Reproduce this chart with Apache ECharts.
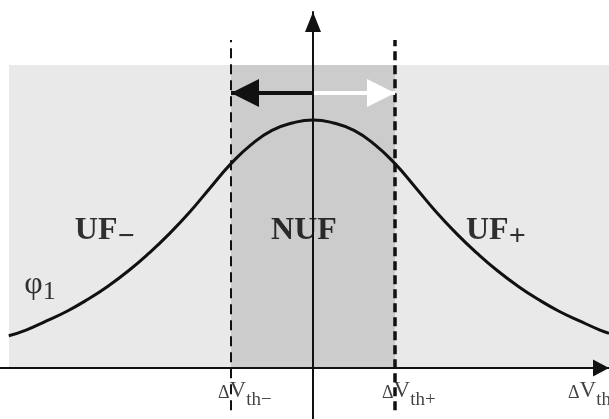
<!DOCTYPE html>
<html>
<head>
<meta charset="utf-8">
<script src="https://cdn.jsdelivr.net/npm/echarts@6/dist/echarts.min.js"></script>
<style>
  html, body { margin: 0; padding: 0; background: #fff; }
  #main { width: 609px; height: 419px; }
</style>
</head>
<body>
<div id="main"></div>
<script>
// 曲线 (x: 以 ΔVth 为单位, y: 峰值归一)
var curveX = [-3.71, -3.5, -3.25, -3.0, -2.75, -2.5, -2.25, -2.0, -1.75, -1.5, -1.25, -1.0, -0.75, -0.5, -0.25, 0,
              0.25, 0.5, 0.75, 1.0, 1.25, 1.5, 1.75, 2.0, 2.25, 2.5, 2.75, 3.0, 3.25, 3.5, 3.61];
var curveY = [0.130, 0.153, 0.190, 0.229, 0.276, 0.330, 0.392, 0.463, 0.542, 0.630, 0.728, 0.824, 0.902, 0.958, 0.988, 1.0,
              0.988, 0.958, 0.902, 0.824, 0.728, 0.630, 0.542, 0.463, 0.392, 0.330, 0.276, 0.229, 0.190, 0.153, 0.140];

// 阈值 / 区域
var thresholds = [-1, 1];
var bandLeft = -3.707;
var bandTop = 1.222;
var dashBottom = -0.17, dashTop = 1.323;
var arrowLevel = 1.109;

// 文字
var regionLabels = ['UF{sub|−}', 'NUF', 'UF{sub|+}', '{phi|φ}{one|1}'];
var regionPos = [[-2.54, 0.552], [-0.11, 0.552], [2.23, 0.552], [-3.33, 0.335]];
var tickLabels = ['{d|Δ}{v|V}{s|th−}', '{d|Δ}{v|V}{s|th+}', '{d|Δ}{v|V}{s|th}'];
var tickPos = [[-1.159, -0.105], [0.841, -0.105], [3.11, -0.105]];

var xMin = -313 / 82, xMax = 296 / 82;
var yMin = -51 / 248, yMax = 356 / 248;

var serif = '"Liberation Serif", "Times New Roman", serif';

var curveData = curveX.map(function (x, i) { return [x, curveY[i]]; });
var regionData = regionLabels.map(function (t, i) { return { value: regionPos[i], name: t }; });
var tickData = tickLabels.map(function (t, i) { return { value: tickPos[i], name: t }; });

var myChart = echarts.init(document.getElementById('main'));
var option = {
  backgroundColor: '#fff',
  animation: false,
  grid: { left: 0, right: 0, top: 12, bottom: 0 },
  xAxis: {
    type: 'value', min: xMin, max: xMax, z: 10,
    axisLine: { onZero: true, symbol: ['none', 'triangle'], symbolSize: [17, 16], symbolOffset: [0, -8],
                lineStyle: { color: '#111', width: 2 } },
    axisTick: { show: false }, axisLabel: { show: false }, splitLine: { show: false }
  },
  yAxis: {
    type: 'value', min: yMin, max: yMax, z: 10,
    axisLine: { onZero: true, symbol: ['none', 'triangle'], symbolSize: [16, 20], symbolOffset: [0, -10],
                lineStyle: { color: '#111', width: 2 } },
    axisTick: { show: false }, axisLabel: { show: false }, splitLine: { show: false }
  },
  series: [
    {
      type: 'line', data: curveData, smooth: 0.5, showSymbol: false, z: 3,
      lineStyle: { color: '#111', width: 3 },
      markArea: {
        silent: true,
        data: [
          [{ coord: [bandLeft, 0], itemStyle: { color: '#e9e9e9' } }, { coord: [xMax, bandTop] }],
          [{ coord: [thresholds[0], 0], itemStyle: { color: '#cccccc' } }, { coord: [thresholds[1], bandTop] }]
        ]
      }
    },
    {
      type: 'line', data: [], z: 4,
      markLine: {
        silent: true, symbol: ['none', 'none'], label: { show: false },
        data: [
          [{ coord: [thresholds[0], dashBottom], lineStyle: { color: '#111', width: 2, type: [10, 6] } }, { coord: [thresholds[0], dashTop] }],
          [{ coord: [thresholds[1], dashBottom], lineStyle: { color: '#111', width: 3.5, type: [9, 5] } }, { coord: [thresholds[1], dashTop] }]
        ]
      }
    },
    {
      type: 'line', data: [], z: 5,
      markLine: {
        silent: true, symbol: ['none', 'triangle'], symbolSize: [28, 28], symbolOffset: [0, [0, 14]],
        label: { show: false },
        data: [
          [{ coord: [0, arrowLevel], lineStyle: { color: '#111', width: 4, type: 'solid' }, itemStyle: { color: '#111' } },
           { coord: [thresholds[0], arrowLevel] }],
          [{ coord: [0, arrowLevel], lineStyle: { color: '#fff', width: 4, type: 'solid' }, itemStyle: { color: '#fff' } },
           { coord: [thresholds[1], arrowLevel] }]
        ]
      }
    },
    {
      type: 'scatter', data: regionData, symbolSize: 0, z: 6, silent: true,
      label: {
        show: true, position: 'inside', formatter: '{b}', color: '#000',
        fontFamily: serif, fontWeight: 'bold', fontSize: 32,
        rich: {
          sub: { fontFamily: serif, fontWeight: 'bold', fontSize: 30, color: '#000', padding: [12, 0, 0, 0] },
          phi: { fontFamily: serif, fontSize: 32, color: '#000', fontWeight: 'normal' },
          one: { fontFamily: serif, fontSize: 26, color: '#000', fontWeight: 'normal', padding: [14, 0, 0, 0] }
        }
      }
    },
    {
      type: 'scatter', data: tickData, symbolSize: 0, z: 6, silent: true,
      label: {
        show: true, position: 'right', distance: 0, formatter: '{b}', color: '#111',
        fontFamily: serif, fontSize: 20,
        rich: {
          d: { fontFamily: serif, fontSize: 18, color: '#111', padding: [0, 0, 7, 0], verticalAlign: 'bottom' },
          v: { fontFamily: serif, fontSize: 23, color: '#111', padding: [0, 0, 7, 0], verticalAlign: 'bottom' },
          s: { fontFamily: serif, fontSize: 19, color: '#111', verticalAlign: 'bottom' }
        }
      }
    }
  ]
};
myChart.setOption(option, true);
</script>
</body>
</html>
